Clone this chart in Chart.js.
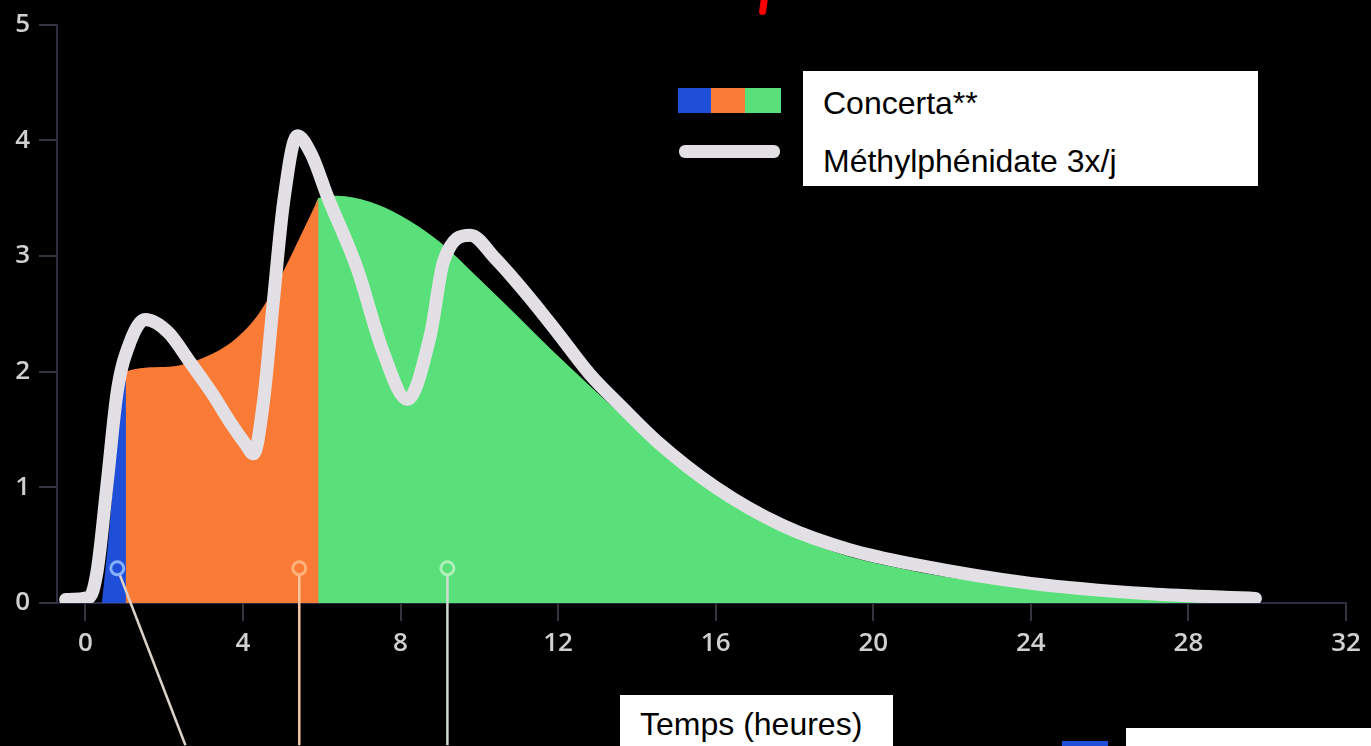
<!DOCTYPE html>
<html lang="fr">
  <head>
    <meta charset="utf-8" />
    <title>Concerta vs Méthylphénidate 3x/j</title>
    <style>
      * {
        margin: 0;
        padding: 0;
      }
      body {
        background: #000;
        overflow: hidden;
      }
      .stage {
        position: relative;
        width: 1371px;
        height: 746px;
        overflow: hidden;
        background: #000;
      }
      .note {
        position: absolute;
        background: #fff;
        color: #000;
        font-family: "Liberation Sans", Arial, sans-serif;
        font-size: 32px;
        white-space: nowrap;
      }
      .note span {
        position: absolute;
        left: 20px;
      }
      .swatch {
        position: absolute;
      }
    </style>
  </head>
  <body>
    <div class="stage">
      <canvas id="myChart" width="1371" height="746"></canvas>

      <!-- red mark cut off at the top -->
      <div class="swatch" style="left:760px;top:-5px;width:7px;height:20px;background:#f00;border-radius:3.5px;transform:rotate(8deg);"></div>

      <!-- legend -->
      <div class="swatch" style="left:678px;top:88px;width:33px;height:25px;background:#1f4fd8;"></div>
      <div class="swatch" style="left:711px;top:88px;width:34px;height:25px;background:#fa7b36;"></div>
      <div class="swatch" style="left:745px;top:88px;width:36px;height:25px;background:#5ae07a;"></div>
      <div class="swatch" style="left:679px;top:145px;width:101px;height:13px;background:#e2e0e4;border-radius:6px;"></div>
      <div class="note" style="left:803px;top:71px;width:455px;height:115px;">
        <span style="top:14px;">Concerta**</span>
        <span style="top:72px;">Méthylphénidate 3x/j</span>
      </div>

      <!-- axis title -->
      <div class="note" style="left:620px;top:695px;width:273px;height:60px;">
        <span style="top:11px;">Temps (heures)</span>
      </div>

      <!-- second legend, cut off at the bottom -->
      <div class="swatch" style="left:1062px;top:741px;width:46px;height:8px;background:#1f4fd8;"></div>
      <div class="note" style="left:1126px;top:728px;width:260px;height:30px;"></div>
    </div>

    <script src="https://cdn.jsdelivr.net/npm/chart.js"></script>
    <script>
      // Concerta** - three release phases (hours, level)
      const blueHours = [0.42, 0.6, 0.8, 1.03];
      const blueLevel = [0, 0.6, 1.4, 2.0];

      const orangeHours = [0.96, 1.03, 2, 3, 3.8, 4.4, 5.0, 5.5, 5.92];
      const orangeLevel = [1.8, 2.0, 2.04, 2.12, 2.28, 2.5, 2.85, 3.2, 3.5];

      const greenHours = [5.84, 5.92, 6.4, 7.2, 8, 9, 10, 11, 11.8, 12.64, 13.5, 14.34, 15.2, 16, 16.9, 17.7, 18.6, 19.4, 20.25, 21.1, 21.95, 23, 24, 25, 26, 27, 28, 29, 29.7];
      const greenLevel = [3.44, 3.5, 3.52, 3.47, 3.35, 3.12, 2.8, 2.47, 2.2, 1.93, 1.66, 1.4, 1.16, 0.95, 0.77, 0.62, 0.49, 0.4, 0.33, 0.27, 0.22, 0.17, 0.13, 0.1, 0.08, 0.06, 0.04, 0.03, 0.02];

      // Méthylphénidate 3x/j
      const mphHours = [-0.5, 0.1, 0.3, 0.56, 0.81, 1.14, 1.52, 2.1, 2.66, 3.2, 3.7, 4.05, 4.27, 4.52, 4.77, 5.03, 5.38, 5.75, 6.14, 6.9, 7.56, 8.17, 8.76, 9.09, 9.77, 10.4, 11.2, 12.0, 12.8, 13.6, 14.5, 16, 17.7, 19.4, 21.1, 24, 27, 29.7];
      const mphLevel = [0.03, 0.05, 0.28, 1.06, 1.83, 2.26, 2.45, 2.34, 2.08, 1.82, 1.55, 1.38, 1.29, 1.74, 2.6, 3.46, 4.04, 3.87, 3.52, 2.89, 2.17, 1.76, 2.32, 2.95, 3.18, 2.98, 2.67, 2.33, 1.98, 1.7, 1.4, 1.0, 0.67, 0.46, 0.33, 0.17, 0.08, 0.04];

      // callout pins: circle on the curve, line running down off the chart
      const pinHours = [0.81, 5.43, 9.19];
      const pinEndHours = [2.54, 5.43, 9.19];
      const pinLevel = 0.3;
      const pinEndLevel = -1.23;

      const xTicks = [0, 4, 8, 12, 16, 20, 24, 28, 32];
      const yTicks = [0, 1, 2, 3, 4, 5];

      const toPoints = (xs, ys) => xs.map((x, i) => ({ x: x, y: ys[i] }));

      function fillSet(xs, ys, color) {
        return {
          data: toPoints(xs, ys),
          backgroundColor: color,
          borderWidth: 0,
          pointRadius: 0,
          fill: "origin",
          cubicInterpolationMode: "monotone",
          order: 3,
        };
      }

      const pinColors = [
        { ring: "#86b0ff", dot: "#1f4fd8", line: "#ddd2c8" },
        { ring: "#ffb27a", dot: "#fa7b36", line: "#f2c7a2" },
        { ring: "#b0f0ba", dot: "#5ae07a", line: "#cfdccf" },
      ];

      const pinSets = pinHours.map((h, i) => ({
        data: [
          { x: h, y: pinLevel },
          { x: pinEndHours[i], y: pinEndLevel },
        ],
        borderColor: pinColors[i].line,
        borderWidth: 2.5,
        pointRadius: [6.5, 0],
        pointBorderWidth: 3,
        pointBorderColor: pinColors[i].ring,
        pointBackgroundColor: pinColors[i].dot,
        fill: false,
        clip: false,
        order: 1,
      }));

      const data = {
        datasets: [
          fillSet(blueHours, blueLevel, "#1f4fd8"),
          fillSet(orangeHours, orangeLevel, "#fa7b36"),
          fillSet(greenHours, greenLevel, "#5ae07a"),
          {
            data: toPoints(mphHours, mphLevel),
            borderColor: "#e2e0e4",
            borderWidth: 13,
            borderCapStyle: "round",
            borderJoinStyle: "round",
            pointRadius: 0,
            fill: false,
            cubicInterpolationMode: "monotone",
            order: 2,
          },
          ...pinSets,
        ],
      };

      const tickFont = { family: "'Open Sans', sans-serif", size: 26, weight: "600" };

      const config = {
        type: "line",
        data,
        options: {
          responsive: false,
          animation: false,
          layout: { padding: { top: 21, right: 25, left: 0, bottom: 0 } },
          plugins: {
            legend: { display: false },
            tooltip: { enabled: false },
          },
          scales: {
            x: {
              type: "linear",
              min: -0.72,
              max: 32,
              afterBuildTicks: (scale) => {
                scale.ticks = xTicks.map((v) => ({ value: v }));
              },
              afterFit: (scale) => {
                scale.height = 143;
              },
              ticks: {
                color: "#d0d0d0",
                font: tickFont,
                padding: 7,
                maxRotation: 0,
              },
              grid: {
                drawOnChartArea: false,
                tickLength: 18,
                color: "#34343f",
                lineWidth: 2,
              },
              border: { color: "#2c2c44", width: 2 },
            },
            y: {
              min: 0,
              max: 5,
              afterBuildTicks: (scale) => {
                scale.ticks = yTicks.map((v) => ({ value: v }));
              },
              afterFit: (scale) => {
                scale.width = 57;
              },
              ticks: {
                color: "#d0d0d0",
                font: tickFont,
                padding: 9,
              },
              grid: {
                drawOnChartArea: false,
                tickLength: 18,
                color: "#34343f",
                lineWidth: 2,
              },
              border: { color: "#2c2c44", width: 2 },
            },
          },
        },
      };

      const myChart = new Chart(document.getElementById("myChart"), config);
    </script>
  </body>
</html>
